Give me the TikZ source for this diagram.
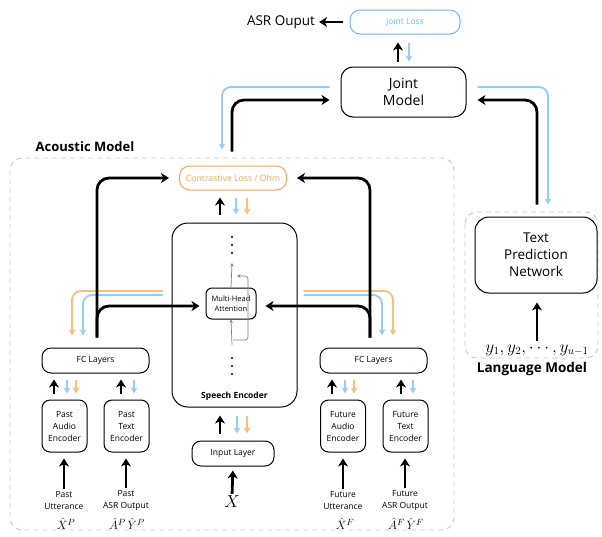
\documentclass[tikz,border=0pt]{standalone}
\usepackage{fontspec}
\setmainfont{Open Sans}
\usetikzlibrary{arrows.meta,calc}
\definecolor{lblue}{RGB}{150,205,245}
\definecolor{lorange}{RGB}{255,190,120}
\definecolor{dblue}{RGB}{115,180,238}
\definecolor{dorange}{RGB}{248,165,75}
\newcommand{\fsz}[2]{\fontsize{#1}{#2}\selectfont}
\begin{document}
\begin{tikzpicture}[x=1pt,y=-1pt,
 box/.style={draw, line width=1pt, rounded corners=8pt, align=center, inner sep=0pt},
 blk/.style={draw=black, line width=2.8pt, -{Stealth[length=8pt,width=10pt,inset=2.5pt]}, rounded corners=12pt},
 barr/.style={draw=lblue, line width=1.8pt, -{Stealth[length=6pt,width=6.5pt,inset=1.5pt]}, rounded corners=9pt},
 oarr/.style={draw=lorange, line width=1.8pt, -{Stealth[length=6pt,width=6.5pt,inset=1.5pt]}, rounded corners=9pt},
 garr/.style={draw=gray, line width=0.7pt, -{Stealth[length=3.5pt,width=3.5pt]}, rounded corners=3pt},
 dbox/.style={draw=gray!45, line width=0.9pt, rounded corners=12pt, dash pattern=on 5pt off 4pt},
 lbl/.style={align=center, inner sep=0.5pt, font=\fsz{8.5}{12}},
 mlbl/.style={inner sep=0pt, font=\fsz{13}{14}},
 enc/.style={box, font=\fsz{8.5}{12}, minimum width=45pt, minimum height=52pt},
 fc/.style={box, font=\fsz{8.5}{11}, minimum width=107pt, minimum height=25pt, rounded corners=9pt},
]
\useasboundingbox (0,0) rectangle (602,536);

% dashed regions
\draw[dbox] (10,158) rectangle (454,530);
\draw[dbox] (465,212) rectangle (598,358);
\node[font=\bfseries\fsz{13}{15}] (amlab) at (85,147) {Acoustic Model};
\node[font=\bfseries\fsz{13.5}{15}] (lmlab) at (532,369) {Language Model};

% top
\node[font=\fsz{13.5}{16}, inner sep=0pt] (asr) at (281,22) {ASR Ouput};
\node[box, draw=dblue, text=dblue, font=\fsz{8.5}{10}, minimum width=110pt, minimum height=24pt, rounded corners=10pt] (jloss) at (405,22) {Joint Loss};
\node[box, font=\fsz{14}{16.5}, minimum width=125pt, minimum height=50pt, rounded corners=12pt] (jmodel) at (403.5,92) {Joint\\Model};

% acoustic model nodes
\node[box, draw=dorange, text=dorange, font=\fsz{8.7}{10}, minimum width=107pt, minimum height=24pt, rounded corners=10pt] (contr) at (233,178) {Contrastive Loss / Ohm};
\node[box, minimum width=125pt, minimum height=184pt, rounded corners=16pt] (senc) at (234.5,315) {};
\node[font=\bfseries\fsz{8.5}{10}, inner sep=0pt] (senclab) at (234.5,396) {Speech Encoder};
\node[box, font=\fsz{7.5}{10}, minimum width=50pt, minimum height=31pt, rounded corners=6pt] (mha) at (231,303.5) {Multi-Head\\Attention};
\node[fc] (fcL) at (95.5,360.5) {FC Layers};
\node[fc] (fcR) at (373.5,360.5) {FC Layers};
\node[enc] (pae) at (64.5,426) {Past\\Audio\\Encoder};
\node[enc] (pte) at (126.5,426) {Past\\Text\\Encoder};
\node[enc] (fae) at (343,426) {Future\\Audio\\Encoder};
\node[enc] (fte) at (405.5,426) {Future\\Text\\Encoder};
\node[box, font=\fsz{8.5}{11}, minimum width=82pt, minimum height=25pt, rounded corners=9pt] (inp) at (233,453.5) {Input Layer};
\node[font=\fsz{17}{18}, inner sep=0pt] (X) at (232,502) {$X$};

\node[lbl] (lpa) at (64,500) {Past\\Utterance};
\node[lbl] (lpt) at (126,500) {Past\\ASR Output};
\node[lbl] (lfa) at (343,500) {Future\\Utterance};
\node[lbl] (lft) at (405,500) {Future\\ASR Output};
\node[mlbl] (mpa) at (66,524) {$\hat{X}^{P}$};
\node[mlbl] (mpt) at (127,524) {$\hat{A}^{P}\,\hat{Y}^{P}$};
\node[mlbl] (mfa) at (345,524) {$\hat{X}^{F}$};
\node[mlbl] (mft) at (406,524) {$\hat{A}^{F}\,\hat{Y}^{F}$};

% language model nodes
\node[box, font=\fsz{13.5}{17}, minimum width=122pt, minimum height=76pt, rounded corners=14pt] (tpn) at (536,255) {Text\\Prediction\\Network};
\node[font=\fsz{16}{17}, inner sep=0pt] (ylab) at (537,350) {$y_1,y_2,\cdots,y_{u-1}$};

% dots in speech encoder
\foreach \yy in {237,245,253,358,366,374} \fill (232,\yy) circle (1.2pt);

% gray arrows inside speech encoder
\coordinate (gbot) at (232,345);
\coordinate (gtop) at (232,263);
\draw[garr] (gbot) -- (mha.south);
\draw[garr] (mha.north) -- (gtop);
\coordinate (rs) at (233,340);
\coordinate (re) at (237,276);
\draw[garr] (rs) -- (248,340) -- (248,276) -- (re);

% colored lines (under black)
\draw[oarr, shorten <=9pt, shorten >=12pt] (senc.west |- 0,291) -- (72,291) -- (72,0 |- fcL.north);
\draw[barr, shorten <=9pt, shorten >=12pt] (senc.west |- 0,295) -- (83,295) -- (83,0 |- fcL.north);
\draw[oarr, shorten <=6pt, shorten >=12pt] (senc.east |- 0,291) -- (393,291) -- (393,0 |- fcR.north);
\draw[barr, shorten <=6pt, shorten >=12pt] (senc.east |- 0,295) -- (382,295) -- (382,0 |- fcR.north);

% joint model connections
\draw[barr, shorten <=11pt, shorten >=16pt] (jmodel.west |- 0,87) -- (222,87) -- (222,0 |- contr.north);
\draw[blk, shorten <=14pt, shorten >=11pt] (232,0 |- contr.north) -- (232,100) -- (jmodel.west |- 0,100);
\draw[barr, shorten <=11pt, shorten >=12pt] (jmodel.east |- 0,87) -- (548,87) -- (548,0 |- tpn.north);
\draw[blk, shorten <=12pt, shorten >=11pt] (537,0 |- tpn.north) -- (537,100) -- (jmodel.east |- 0,100);
\draw[blk, shorten <=5pt, shorten >=8pt] (398,0 |- jmodel.north) -- (398,0 |- jloss.south);
\draw[barr, shorten <=8pt, shorten >=5pt] (409,0 |- jloss.south) -- (409,0 |- jmodel.north);
\draw[blk, shorten <=7pt, shorten >=4pt] (jloss.west) -- (asr.east);

% speech encoder <-> contrastive
\draw[blk, shorten <=8pt, shorten >=7pt] (220,0 |- senc.north) -- (220,0 |- contr.south);
\draw[barr, shorten <=7pt, shorten >=8pt] (236,0 |- contr.south) -- (236,0 |- senc.north);
\draw[oarr, shorten <=7pt, shorten >=8pt] (247,0 |- contr.south) -- (247,0 |- senc.north);

% context branches
\draw[blk, shorten <=10pt, shorten >=10pt] (97,0 |- fcL.north) -- (97,178) -- (contr.west);
\draw[blk, shorten <=10pt, shorten >=6pt] (97,0 |- fcL.north) -- (97,306) -- (mha.west |- 0,306);
\draw[blk, shorten <=10pt, shorten >=10pt] (370,0 |- fcR.north) -- (370,178) -- (contr.east);
\draw[blk, shorten <=10pt, shorten >=9pt] (370,0 |- fcR.north) -- (370,306) -- (mha.east |- 0,306);

% encoders <-> FC
\draw[blk, shorten <=6pt, shorten >=6pt] (54,0 |- pae.north) -- (54,0 |- fcL.south);
\draw[barr, shorten <=6pt, shorten >=6pt] (67,0 |- fcL.south) -- (67,0 |- pae.north);
\draw[oarr, shorten <=6pt, shorten >=6pt] (76,0 |- fcL.south) -- (76,0 |- pae.north);
\draw[blk, shorten <=6pt, shorten >=6pt] (121,0 |- pte.north) -- (121,0 |- fcL.south);
\draw[barr, shorten <=6pt, shorten >=6pt] (134,0 |- fcL.south) -- (134,0 |- pte.north);
\draw[blk, shorten <=6pt, shorten >=6pt] (332,0 |- fae.north) -- (332,0 |- fcR.south);
\draw[barr, shorten <=6pt, shorten >=6pt] (345,0 |- fcR.south) -- (345,0 |- fae.north);
\draw[oarr, shorten <=6pt, shorten >=6pt] (354,0 |- fcR.south) -- (354,0 |- fae.north);
\draw[blk, shorten <=6pt, shorten >=6pt] (401,0 |- fte.north) -- (401,0 |- fcR.south);
\draw[barr, shorten <=6pt, shorten >=6pt] (413,0 |- fcR.south) -- (413,0 |- fte.north);

% input layer <-> speech encoder
\draw[blk, shorten <=7pt, shorten >=8pt] (220,0 |- inp.north) -- (220,0 |- senc.south);
\draw[barr, shorten <=8pt, shorten >=7pt] (237,0 |- senc.south) -- (237,0 |- inp.north);
\draw[oarr, shorten <=8pt, shorten >=7pt] (247,0 |- senc.south) -- (247,0 |- inp.north);

% inputs
\draw[blk, shorten <=2pt, shorten >=4pt] (X.north) -- (inp.south);
\draw[blk, shorten <=1pt, shorten >=6pt] (lpa.north) -- (lpa.north |- pae.south);
\draw[blk, shorten <=1pt, shorten >=6pt] (lpt.north) -- (lpt.north |- pte.south);
\draw[blk, shorten <=1pt, shorten >=6pt] (lfa.north) -- (lfa.north |- fae.south);
\draw[blk, shorten <=1pt, shorten >=6pt] (lft.north) -- (lft.north |- fte.south);
\draw[blk, shorten <=3pt, shorten >=9pt] (ylab.north) -- (ylab.north |- tpn.south);
\end{tikzpicture}
\end{document}
